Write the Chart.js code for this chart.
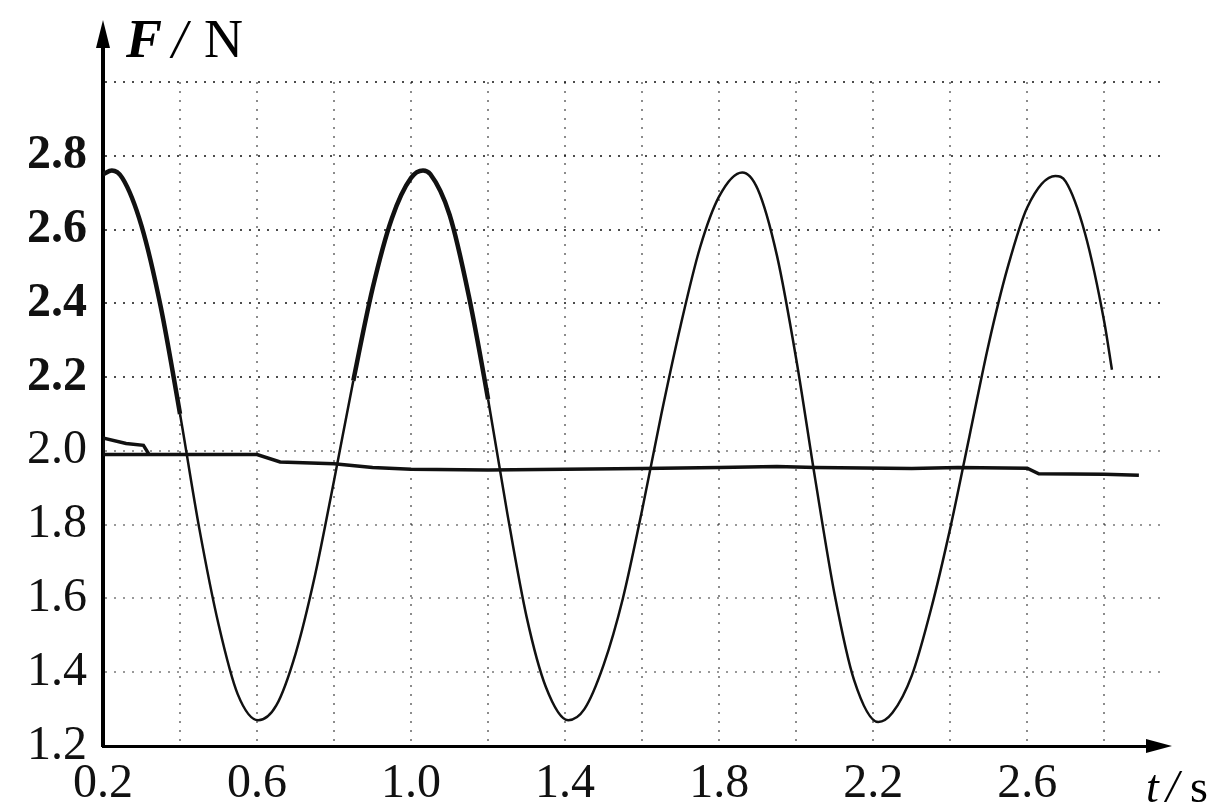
<!DOCTYPE html>
<html>
<head>
<meta charset="utf-8">
<script src="https://cdn.jsdelivr.net/npm/chart.js@4.4.1/dist/chart.umd.min.js"></script>
<style>
  html, body { margin: 0; padding: 0; background: #fff; }
  canvas { display: block; }
</style>
</head>
<body>
<canvas id="forceChart" width="1212" height="809"></canvas>
<script>
// F-t 图像：振动的拉力曲线 + 几乎水平的曲线
const oscT = [0.20, 0.223, 0.25, 0.30, 0.35, 0.40, 0.45, 0.50, 0.55, 0.603,
  0.65, 0.70, 0.75, 0.80, 0.85, 0.90, 0.95, 1.00, 1.031,
  1.05, 1.10, 1.15, 1.20, 1.25, 1.30, 1.35, 1.408,
  1.45, 1.50, 1.55, 1.60, 1.65, 1.70, 1.75, 1.80, 1.86,
  1.90, 1.95, 2.00, 2.05, 2.10, 2.15, 2.213,
  2.25, 2.30, 2.35, 2.40, 2.45, 2.50, 2.55, 2.60, 2.673,
  2.70, 2.75, 2.80, 2.82];
const oscF = [2.75, 2.76, 2.74, 2.61, 2.39, 2.10, 1.79, 1.53, 1.34, 1.27,
  1.31, 1.45, 1.66, 1.92, 2.19, 2.44, 2.63, 2.74, 2.76,
  2.75, 2.64, 2.42, 2.14, 1.83, 1.55, 1.36, 1.27,
  1.30, 1.42, 1.60, 1.84, 2.10, 2.34, 2.55, 2.69, 2.755,
  2.71, 2.53, 2.25, 1.92, 1.61, 1.38, 1.265,
  1.29, 1.39, 1.57, 1.79, 2.04, 2.29, 2.50, 2.66, 2.745,
  2.73, 2.59, 2.35, 2.22];

// 水平线（起点处有一个小回环）
const flatT = [0.32, 0.20, 0.20, 0.26, 0.305, 0.32, 0.45, 0.60, 0.66, 0.80, 0.90, 1.00,
  1.20, 1.40, 1.60, 1.80, 1.95, 2.05, 2.30, 2.42, 2.60, 2.63, 2.80, 2.89];
const flatF = [1.99, 1.99, 2.035, 2.02, 2.015, 1.99, 1.99, 1.99, 1.97, 1.965, 1.955, 1.95,
  1.948, 1.95, 1.952, 1.955, 1.958, 1.955, 1.952, 1.955, 1.953, 1.938, 1.937, 1.934];

const xGridTicks = [0.2, 0.4, 0.6, 0.8, 1.0, 1.2, 1.4, 1.6, 1.8, 2.0, 2.2, 2.4, 2.6, 2.8];
const xTickLabels = ["0.2", "0.6", "1.0", "1.4", "1.8", "2.2", "2.6"];
const yGridTicks = [1.2, 1.4, 1.6, 1.8, 2.0, 2.2, 2.4, 2.6, 2.8, 3.0];
const yTickLabels = ["1.2", "1.4", "1.6", "1.8", "2.0", "2.2", "2.4", "2.6", "2.8"];

const serif = '"Liberation Serif", "DejaVu Serif", serif';

function pick(labels, v) {
  const s = Number(v).toFixed(1);
  return labels.includes(s) ? s : "";
}

// 坐标轴箭头和轴标题
const axisDecor = {
  id: "axisDecor",
  afterDraw(chart) {
    const { ctx, chartArea: a } = chart;
    ctx.save();
    ctx.strokeStyle = "#000";
    ctx.fillStyle = "#000";
    // y 轴延长 + 箭头
    ctx.lineWidth = 4;
    ctx.beginPath();
    ctx.moveTo(a.left, a.top + 2);
    ctx.lineTo(a.left, 44);
    ctx.stroke();
    ctx.beginPath();
    ctx.moveTo(a.left, 20);
    ctx.lineTo(a.left - 7, 48);
    ctx.lineTo(a.left + 7, 48);
    ctx.closePath();
    ctx.fill();
    // x 轴延长 + 箭头
    ctx.lineWidth = 3;
    ctx.beginPath();
    ctx.moveTo(a.right - 2, a.bottom);
    ctx.lineTo(1150, a.bottom);
    ctx.stroke();
    ctx.beginPath();
    ctx.moveTo(1172, a.bottom);
    ctx.lineTo(1146, a.bottom - 7);
    ctx.lineTo(1146, a.bottom + 7);
    ctx.closePath();
    ctx.fill();

    ctx.textBaseline = "alphabetic";
    ctx.textAlign = "left";
    ctx.font = "italic bold 54px " + serif;
    ctx.fillText("F", 126, 57);
    ctx.font = "italic 54px " + serif;
    ctx.fillText("/", 172, 57);
    ctx.font = "54px " + serif;
    ctx.fillText("N", 204, 57);

    ctx.font = "italic 46px " + serif;
    ctx.fillText("t", 1146, 802);
    ctx.fillText("/", 1166, 802);
    ctx.font = "46px " + serif;
    ctx.fillText("s", 1190, 802);
    ctx.restore();
  }
};

new Chart(document.getElementById("forceChart"), {
  type: "line",
  data: {
    datasets: [
      {
        data: oscT.map((t, i) => ({ x: t, y: oscF[i] })),
        borderColor: "#111",
        borderWidth: 2.5,
        pointRadius: 0,
        cubicInterpolationMode: "monotone",
        segment: {
          borderWidth: c => {
            const lo = Math.min(c.p0.parsed.y, c.p1.parsed.y);
            const hi = Math.max(c.p0.parsed.y, c.p1.parsed.y);
            return (c.p0.parsed.x < 1.2 && lo > 2.08 && hi > 2.3) ? 4.5 : 2.5;
          }
        }
      },
      {
        data: flatT.map((t, i) => ({ x: t, y: flatF[i] })),
        borderColor: "#111",
        borderWidth: 3.5,
        pointRadius: 0,
        tension: 0
      }
    ]
  },
  options: {
    responsive: false,
    animation: false,
    layout: { padding: { top: 82, right: 50, left: 0, bottom: 0 } },
    plugins: { legend: { display: false }, tooltip: { enabled: false } },
    scales: {
      x: {
        type: "linear",
        min: 0.2,
        max: 2.95,
        afterBuildTicks: s => { s.ticks = xGridTicks.map(v => ({ value: v })); },
        afterFit: s => { s.height = 63; },
        ticks: {
          autoSkip: false,
          maxRotation: 0,
          padding: 10,
          color: "#111",
          font: { family: serif, size: 48 },
          callback: v => pick(xTickLabels, v)
        },
        grid: {
          drawTicks: false,
          lineWidth: 2,
          color: c => (c.tick && c.tick.value > 0.25) ? "rgba(0,0,0,0.45)" : "rgba(0,0,0,0)"
        },
        border: { color: "#000", width: 3, dash: [2, 7] }
      },
      y: {
        type: "linear",
        min: 1.2,
        max: 3.0,
        afterBuildTicks: s => { s.ticks = yGridTicks.map(v => ({ value: v })); },
        afterFit: s => { s.width = 103; },
        ticks: {
          padding: 16,
          color: "#111",
          font: c => ({ family: serif, size: 48, weight: (c.tick && c.tick.value > 2.15) ? "bold" : "normal" }),
          callback: v => pick(yTickLabels, v)
        },
        grid: {
          drawTicks: false,
          lineWidth: 2,
          color: c => {
            const v = c.tick ? c.tick.value : 0;
            if (v < 1.25) return "rgba(0,0,0,0)";
            return v > 2.15 ? "rgba(0,0,0,0.7)" : "rgba(0,0,0,0.4)";
          }
        },
        border: { color: "#000", width: 4, dash: [2, 7] }
      }
    }
  },
  plugins: [axisDecor]
});
</script>
</body>
</html>
